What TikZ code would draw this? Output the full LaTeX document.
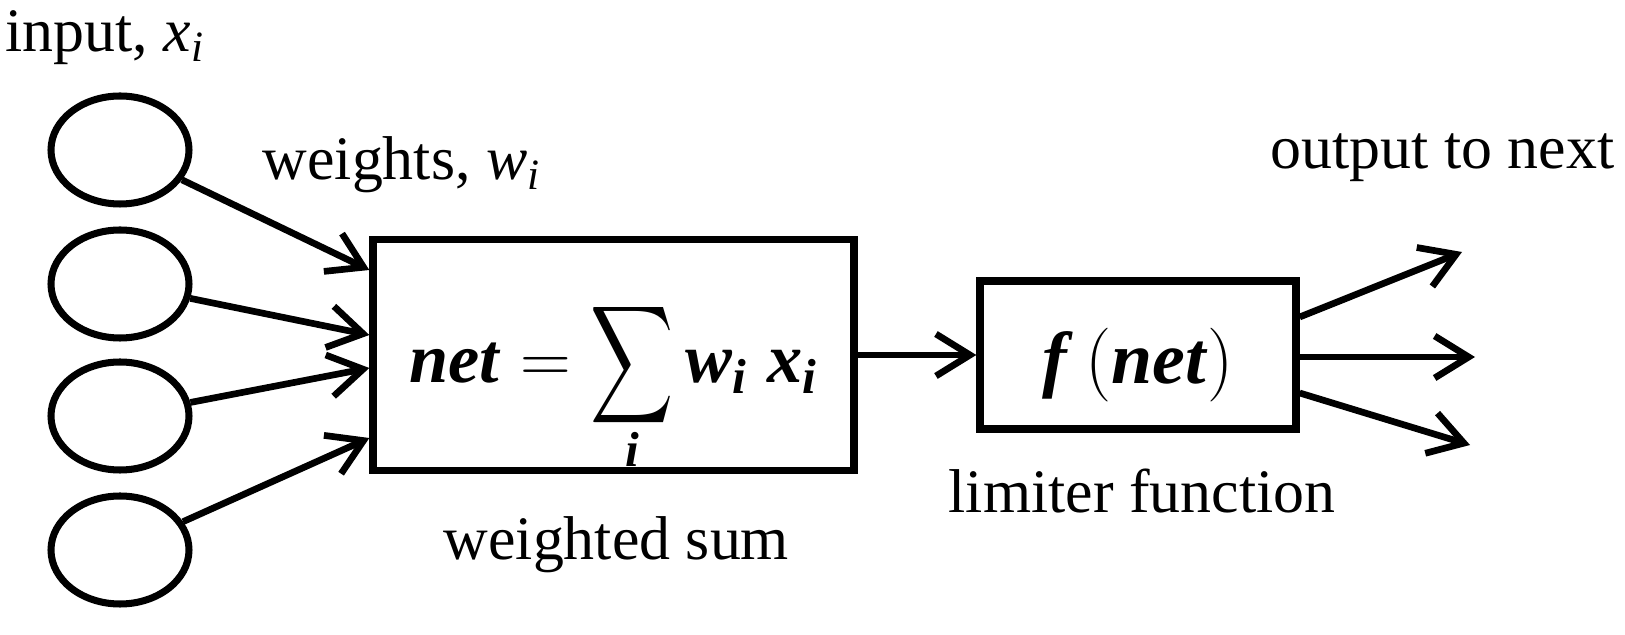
\documentclass[tikz,border=0pt]{standalone}
\usepackage{fix-cm}
\usepackage{amsmath,amssymb,graphicx}
\usepackage{fontspec}
\setmainfont{Liberation Serif}
\usepackage{tikz}
\usetikzlibrary{shapes,arrows.meta,positioning}
\newcommand{\bfi}[1]{\textbf{\textit{#1}}}
\newcommand{\bigsum}{\mathop{\vcenter{\hbox{\scalebox{0.82}[1.17]{$\displaystyle\sum$}}}}\limits}

\begin{document}
\begin{tikzpicture}[
    unit/.style={ellipse, draw, line width=2pt, minimum width=1.38cm, minimum height=1.08cm, inner sep=0pt},
    block/.style={rectangle, draw, line width=2.1pt, inner sep=0pt},
    lbl/.style={anchor=base west, inner sep=0pt, font=\fontsize{17.6}{21}\selectfont},
    arr/.style={line width=1.9pt, -{Straight Barb[length=3.4mm, width=4.2mm]}}
]
    \useasboundingbox (0,0) rectangle (16.25,6.35);

    \node[unit] (x1) at (1.20,4.85) {};
    \node[unit] (x2) at (1.20,3.51) {};
    \node[unit] (x3) at (1.20,2.19) {};
    \node[unit] (x4) at (1.20,0.85) {};

    \node[block, minimum width=4.81cm, minimum height=2.31cm, text height=0.75cm, text depth=0.2cm,
        font=\fontsize{20}{24}\selectfont] (sum) at (6.135,2.80)
        {$\displaystyle \bfi{net} = \bigsum_{\text{\raisebox{3pt}[\height][\depth]{\bfi{i}}}} \bfi{w}_{\bfi{i}}\; \bfi{x}_{\bfi{i}}$};
    \node[block, minimum width=3.16cm, minimum height=1.48cm, text height=0.8cm, text depth=0.22cm,
        font=\fontsize{21}{25}\selectfont] (lim) at (11.38,2.80)
        {$\bfi{f}\,(\bfi{net})$};

    \coordinate (o1) at (14.62,3.83);
    \coordinate (o2) at (14.75,2.78);
    \coordinate (o3) at (14.70,1.90);

    \node[lbl] (inlbl) at (0.05,5.83) {input, \textit{x}\textsubscript{\textit{i}}};
    \node[lbl] (wlbl) at (2.62,4.55) {weights, \textit{w}\textsubscript{\textit{i}}};
    \node[lbl] (outlbl) at (12.70,4.66) {output to next};
    \node[lbl] (limlbl) at (9.48,1.23) {limiter function};
    \node[lbl] (sumlbl) at (4.43,0.76) {weighted sum};

    \draw[arr] (x1) -- ([yshift=0.85cm]sum.west);
    \draw[arr] (x2) -- ([yshift=0.20cm]sum.west);
    \draw[arr] (x3) -- ([yshift=-0.13cm]sum.west);
    \draw[arr] (x4) -- ([yshift=-0.83cm]sum.west);
    \draw[arr] (sum) -- (lim);
    \draw[arr] ([yshift=0.38cm]lim.east) -- (o1);
    \draw[arr] ([yshift=-0.02cm]lim.east) -- (o2);
    \draw[arr] ([yshift=-0.38cm]lim.east) -- (o3);
\end{tikzpicture}
\end{document}
